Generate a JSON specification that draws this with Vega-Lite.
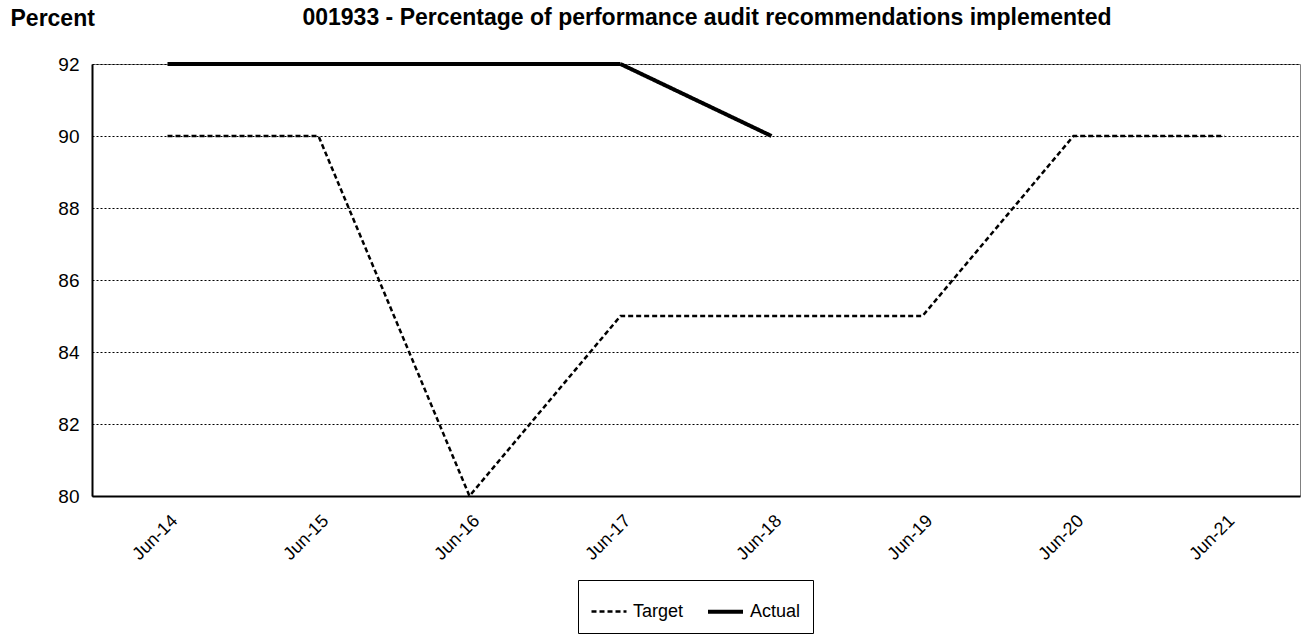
{
  "$schema": "https://vega.github.io/schema/vega-lite/v6.json",
  "autosize": {"type": "none"},
  "width": 1208,
  "height": 432,
  "padding": {"left": 92, "top": 64, "right": 6, "bottom": 138},
  "background": "white",
  "config": {
    "font": "Liberation Sans",
    "view": {"stroke": "#808080", "strokeWidth": 1}
  },
  "title": {
    "text": "001933 - Percentage of performance audit recommendations implemented",
    "font": "Liberation Sans",
    "fontSize": 23,
    "fontWeight": "bold",
    "color": "black",
    "anchor": "middle",
    "frame": "group",
    "baseline": "alphabetic",
    "offset": 0,
    "dx": 11,
    "dy": 41
  },
  "data": {
    "values": [
      {"date": "Jun-14", "series": "Target", "value": 90},
      {"date": "Jun-15", "series": "Target", "value": 90},
      {"date": "Jun-16", "series": "Target", "value": 80},
      {"date": "Jun-17", "series": "Target", "value": 85},
      {"date": "Jun-18", "series": "Target", "value": 85},
      {"date": "Jun-19", "series": "Target", "value": 85},
      {"date": "Jun-20", "series": "Target", "value": 90},
      {"date": "Jun-21", "series": "Target", "value": 90},
      {"date": "Jun-14", "series": "Actual", "value": 92},
      {"date": "Jun-15", "series": "Actual", "value": 92},
      {"date": "Jun-16", "series": "Actual", "value": 92},
      {"date": "Jun-17", "series": "Actual", "value": 92},
      {"date": "Jun-18", "series": "Actual", "value": 90}
    ]
  },
  "mark": {"type": "line", "color": "black", "strokeCap": "butt"},
  "encoding": {
    "x": {
      "field": "date",
      "type": "ordinal",
      "sort": null,
      "scale": {"type": "point", "padding": 0.5},
      "axis": {
        "title": null,
        "labelAngle": -45,
        "labelAlign": "right",
        "labelBaseline": "middle",
        "labelFontSize": 18,
        "labelColor": "black",
        "labelPadding": 22,
        "labelOffset": 7,
        "ticks": false,
        "domainColor": "black",
        "domainWidth": 2,
        "grid": false
      }
    },
    "y": {
      "field": "value",
      "type": "quantitative",
      "scale": {"domain": [80, 92], "nice": false, "zero": false},
      "axis": {
        "title": "Percent",
        "titleAngle": 0,
        "titleAlign": "left",
        "titleBaseline": "alphabetic",
        "titleX": -82,
        "titleY": -39,
        "titleFontSize": 23,
        "titleFontWeight": "bold",
        "titleColor": "black",
        "values": [80, 82, 84, 86, 88, 90, 92],
        "labelFontSize": 19,
        "labelColor": "black",
        "labelPadding": 13,
        "ticks": false,
        "domainColor": "black",
        "domainWidth": 2,
        "grid": true,
        "gridColor": "black",
        "gridDash": [2, 2],
        "gridWidth": 1
      }
    },
    "strokeDash": {
      "field": "series",
      "type": "nominal",
      "scale": {"domain": ["Target", "Actual"], "range": [[5, 3], [1, 0]]},
      "legend": {
        "title": null,
        "orient": "none",
        "legendX": 486,
        "legendY": 516,
        "direction": "horizontal",
        "symbolType": "stroke",
        "symbolSize": 1225,
        "symbolStrokeColor": "black",
        "labelFontSize": 18,
        "labelColor": "black",
        "labelOffset": 5,
        "columnPadding": 16,
        "padding": 12,
        "strokeColor": "black",
        "fillColor": "white"
      }
    },
    "strokeWidth": {
      "field": "series",
      "type": "nominal",
      "scale": {"domain": ["Target", "Actual"], "range": [2.5, 4]},
      "legend": {
        "title": null,
        "orient": "none",
        "legendX": 486,
        "legendY": 516,
        "direction": "horizontal",
        "symbolType": "stroke",
        "symbolSize": 1225,
        "symbolStrokeColor": "black",
        "labelFontSize": 18,
        "labelColor": "black",
        "labelOffset": 5,
        "columnPadding": 16,
        "padding": 12,
        "strokeColor": "black",
        "fillColor": "white"
      }
    }
  }
}
